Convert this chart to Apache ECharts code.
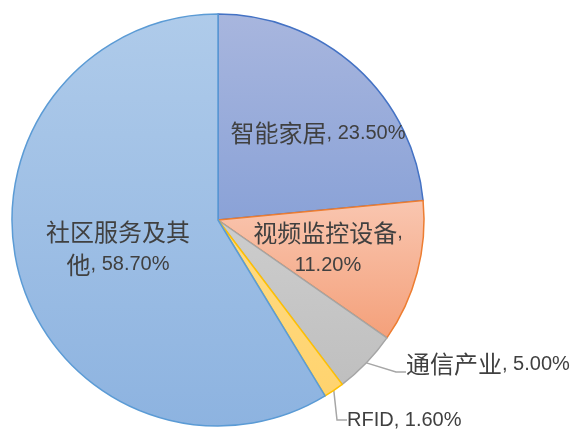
<!DOCTYPE html>
<html><head><meta charset="utf-8">
<script src="https://cdn.jsdelivr.net/npm/echarts@6/dist/echarts.min.js"></script>
<style>html,body{margin:0;padding:0;background:#fff}#c{width:572px;height:430px}</style>
</head><body><div id="c"></div>
<script>
var categories = ['智能家居', '视频监控设备', '通信产业', 'RFID', '社区服务及其他'];
var values = [23.5, 11.2, 5.0, 1.6, 58.7];

// styles (not data)
var topColors = ['#a8b6de', '#f9c6b0', '#cdcdcd', '#ffdb85', '#afcbea'];
var bottomColors = ['#8aa2d7', '#f4a07a', '#bfbfbf', '#ffd36e', '#8db3e0'];
var borderColors = ['#4472c4', '#ed7d31', '#a5a5a5', '#ffc000', '#5b9bd5'];
var labelStyle = [
  {x: 318, y: 133, align: 'center', brk: null},
  {x: 328, y: 249, align: 'center', brk: 'comma'},
  {x: 406, y: 372, align: 'left', brk: null, outside: true, padBottom: 16},
  {x: 347, y: 420, align: 'left', brk: null, outside: true, padBottom: 0},
  {x: 118, y: 248, align: 'center', brk: 6}
];

function toRich(str) {
  // split text into runs of CJK / latin so each gets its own font
  var out = '', cur = '', curType = null;
  function flush() {
    if (cur) out += '{' + curType + '|' + cur + '}';
    cur = '';
  }
  for (var k = 0; k < str.length; k++) {
    var ch = str[k];
    if (ch === '\n') { flush(); out += '\n'; curType = null; continue; }
    var t = /[\u4e00-\u9fff]/.test(ch) ? 'c' : 'l';
    if (t !== curType) { flush(); curType = t; }
    cur += ch;
  }
  flush();
  return out;
}

function fmtLabel(i) {
  var name = categories[i], v = values[i].toFixed(2) + '%';
  var s = labelStyle[i];
  var txt;
  if (s.brk === 'comma') txt = name + ',\n' + v;
  else {
    var full = name + ', ' + v;
    txt = (typeof s.brk === 'number') ? full.slice(0, s.brk) + '\n' + full.slice(s.brk) : full;
  }
  return toRich(txt);
}

var data = categories.map(function (n, i) {
  var s = labelStyle[i];
  return {
    name: n, value: values[i],
    itemStyle: {
      color: new echarts.graphic.LinearGradient(0, 0, 0, 1, [
        {offset: 0, color: topColors[i]}, {offset: 1, color: bottomColors[i]}]),
      borderColor: borderColors[i], borderWidth: 1.5
    },
    label: {position: s.outside ? 'outside' : 'inside', align: s.align,
      padding: [0, 0, s.padBottom || 0, 0]},
    labelLine: {show: !!s.outside, length: 12, length2: 10,
      lineStyle: {color: '#a6a6a6', width: 1.5}}
  };
});

var chart = echarts.init(document.getElementById('c'), null, {renderer: 'canvas'});
chart.setOption({
  animation: false,
  series: [{
    type: 'pie',
    center: [218, 220],
    radius: 206,
    startAngle: 90,
    clockwise: true,
    data: data,
    label: {
      formatter: function (p) { return fmtLabel(p.dataIndex); },
      color: '#404040',
      lineHeight: 33,
      overflow: 'none',
      width: null,
      rich: {
        c: {fontFamily: 'Noto Sans CJK SC', fontSize: 24, color: '#404040', lineHeight: 33},
        l: {fontFamily: '"Liberation Sans", Arial, sans-serif', fontSize: 20, color: '#404040', lineHeight: 33}
      }
    },
    labelLayout: function (p) {
      var s = labelStyle[p.dataIndex];
      return {x: s.x, y: s.y, align: s.align, verticalAlign: 'middle'};
    }
  }]
});
</script></body></html>
